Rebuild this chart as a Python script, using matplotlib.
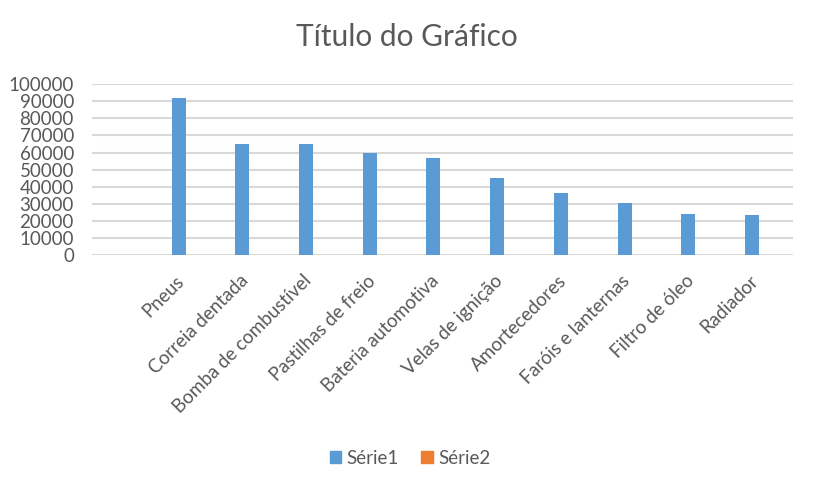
import numpy as np
import matplotlib.pyplot as plt
from matplotlib.patches import Patch

# category list (first slot is blank in the source sheet)
categories = ['', 'Pneus', 'Correia dentada', 'Bomba de combustível', 'Pastilhas de freio',
              'Bateria automotiva', 'Velas de ignição', 'Amortecedores', 'Faróis e lanternas',
              'Filtro de óleo', 'Radiador']
serie1 = [0, 92000, 65000, 65000, 60000, 57000, 45000, 36500, 30500, 24000, 23500]
serie2 = [0, 0, 0, 0, 0, 0, 0, 0, 0, 0, 0]
yticks = list(range(0, 100001, 10000))

grey = '#595959'
plt.rcParams['font.family'] = ['Lato', 'DejaVu Sans']

fig = plt.figure(figsize=(8.14, 4.9), dpi=100)
ax = fig.add_axes([92 / 814, 1 - 255.3 / 490, 700.7 / 814, 171.3 / 490])

x = np.arange(len(categories))
w = 0.22
ax.bar(x - 0.14, serie1, width=w, color='#5B9BD5', zorder=3)
ax.bar(x + 0.14, serie2, width=w, color='#ED7D31', zorder=3)

ax.set_xlim(-0.5, len(categories) - 0.5)
ax.set_ylim(0, 100000)
ax.set_yticks(yticks)
ax.set_yticklabels([str(v) for v in yticks], fontsize=13.5, color=grey)
ax.set_xticks(x)
ax.set_xticklabels(categories, rotation=45, ha='right', va='top', fontsize=13.5, color=grey)
ax.tick_params(axis='both', length=0)
ax.tick_params(axis='x', pad=12)
ax.tick_params(axis='y', pad=13)
ax.grid(axis='y', color='#d9d9d9', linewidth=1.5, zorder=0)
for s in ax.spines.values():
    s.set_visible(False)

fig.suptitle('Título do Gráfico', fontsize=21.5, color=grey, y=1 - 37 / 490, va='center')

handles = [Patch(color='#5B9BD5', label='Série1'), Patch(color='#ED7D31', label='Série2')]
fig.legend(handles=handles, loc='center', bbox_to_anchor=(410 / 814, 1 - 458 / 490), ncol=2,
           frameon=False, fontsize=13.5, labelcolor=grey, handlelength=0.6, handleheight=0.6,
           handletextpad=0.3, columnspacing=1.2)

fig.savefig('out.png', dpi=100)
